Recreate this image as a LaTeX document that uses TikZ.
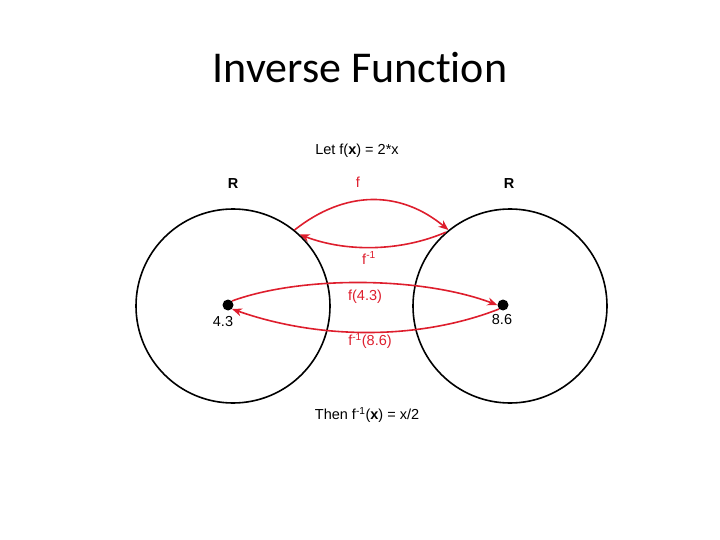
\documentclass[tikz,border=0pt]{standalone}
\usepackage{fontspec}
\setmainfont{Liberation Sans}
\newfontfamily\titlefont[Ligatures=NoCommon]{Carlito}
\usetikzlibrary{arrows.meta}
\definecolor{arrred}{RGB}{222,30,45}
\begin{document}
\begin{tikzpicture}[x=1pt,y=1pt,
  setcircle/.style={circle,draw=black,line width=1.6pt,minimum size=194pt,inner sep=0pt},
  dotnode/.style={circle,fill=black,minimum size=11pt,inner sep=0pt},
  redarrow/.style={draw=arrred,line width=1.6pt,-{Stealth[length=10pt,width=8pt]}},
  redlabel/.style={text=arrred,font=\fontsize{14.5}{16}\selectfont,inner sep=1pt},
  blacklabel/.style={text=black,font=\fontsize{14.5}{16}\selectfont,inner sep=1pt}]
\useasboundingbox (0,0) rectangle (720,-540);
\node[font=\titlefont\fontsize{44}{50}\selectfont] (title) at (360,-68) {Inverse Func\kern0pt tion};
\node[setcircle] (L) at (233,-306) {};
\node[setcircle] (R) at (510,-306) {};
\node[blacklabel,font=\bfseries\fontsize{14.5}{16}\selectfont] (RL) at (233,-184) {R};
\node[blacklabel,font=\bfseries\fontsize{14.5}{16}\selectfont] (RR) at (509,-184) {R};
\node[blacklabel] (let) at (357,-151) {Let f(\textbf{x}) = 2*x};
\node[blacklabel] (then) at (367,-415) {Then f\textsuperscript{-1}(\textbf{x}) = x/2};
\node[dotnode] (a) at (228,-305) {};
\node[dotnode] (b) at (503,-305) {};
\node[blacklabel] (a4) at (223,-322) {4.3};
\node[blacklabel] (b8) at (502,-320) {8.6};
\coordinate (p1) at (L.51);
\coordinate (p2) at (R.129);
\coordinate (p3) at (R.131);
\coordinate (p4) at (L.47);
\draw[redarrow] (p1) .. controls (345,-190) and (400,-190) .. (p2);
\draw[redarrow] (p3) .. controls (400,-252) and (345,-252) .. (p4);
\node[redlabel] (f) at (358,-182) {f};
\node[redlabel] (finv) at (369,-258) {f\textsuperscript{-1}};
\draw[redarrow] (a.north east) .. controls (300,-276) and (420,-276) .. (b.west);
\draw[redarrow] (b.south west) .. controls (420,-340) and (320,-340) .. (a.south east);
\node[redlabel] (f43) at (365,-297) {f(4.3)};
\node[redlabel] (f86) at (370,-341) {f\textsuperscript{-1}(8.6)};
\end{tikzpicture}
\end{document}
